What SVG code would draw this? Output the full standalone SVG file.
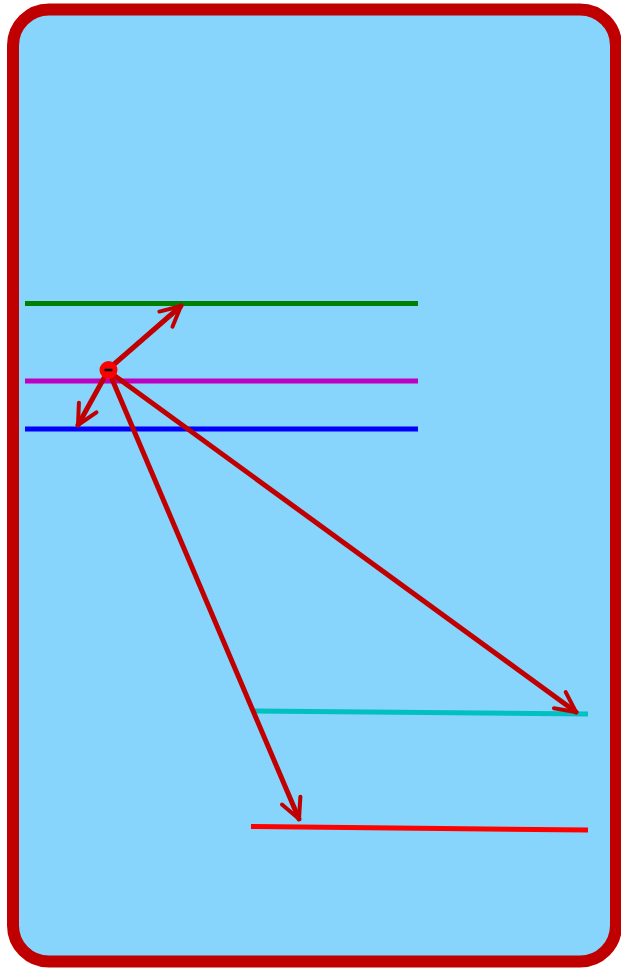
<svg xmlns="http://www.w3.org/2000/svg" width="621" height="968" viewBox="0 0 621 968">
<defs>
<style>
.lvl{stroke-width:5;fill:none}
.arr{stroke:#c00000;stroke-width:5;fill:none;stroke-linecap:round;marker-end:url(#ah)}
</style>
<marker id="ah" viewBox="0 0 10 10" refX="9" refY="5" markerWidth="5" markerHeight="5" orient="auto" markerUnits="strokeWidth">
<path d="M1,1 L9,5 L1,9" fill="none" stroke="#c00000" stroke-width="1.6" stroke-linecap="round" stroke-linejoin="miter"/>
</marker>
</defs>
<g id="frame"><rect x="13" y="9.5" width="603" height="952" rx="36" fill="#87d4fc" stroke="#c00000" stroke-width="12"/></g>
<g id="levels">
<line id="green" class="lvl" x1="25" y1="303.5" x2="418" y2="303.5" stroke="#008000"/>
<line id="purple" class="lvl" x1="25" y1="381" x2="418" y2="381" stroke="#c000c0"/>
<line id="blue" class="lvl" x1="25" y1="429" x2="418" y2="429" stroke="#0000ff"/>
<line id="cyan" class="lvl" x1="253" y1="711" x2="588" y2="714" stroke="#00c0c0"/>
<line id="red" class="lvl" x1="251" y1="826.5" x2="588" y2="830" stroke="#ff0000"/>
</g>
<g id="connectors">
<line class="arr" x1="112" y1="366" x2="181" y2="306"/>
<line class="arr" x1="104" y1="378" x2="78" y2="425"/>
<line class="arr" x1="115" y1="376" x2="576" y2="712"/>
<line class="arr" x1="112" y1="379" x2="299" y2="819"/>
</g>
<g id="electron">
<circle cx="108.5" cy="370" r="9" fill="#ff0000"/>
<line x1="104.5" y1="370" x2="112.5" y2="370" stroke="#000" stroke-width="2.5"/>
</g>
</svg>
